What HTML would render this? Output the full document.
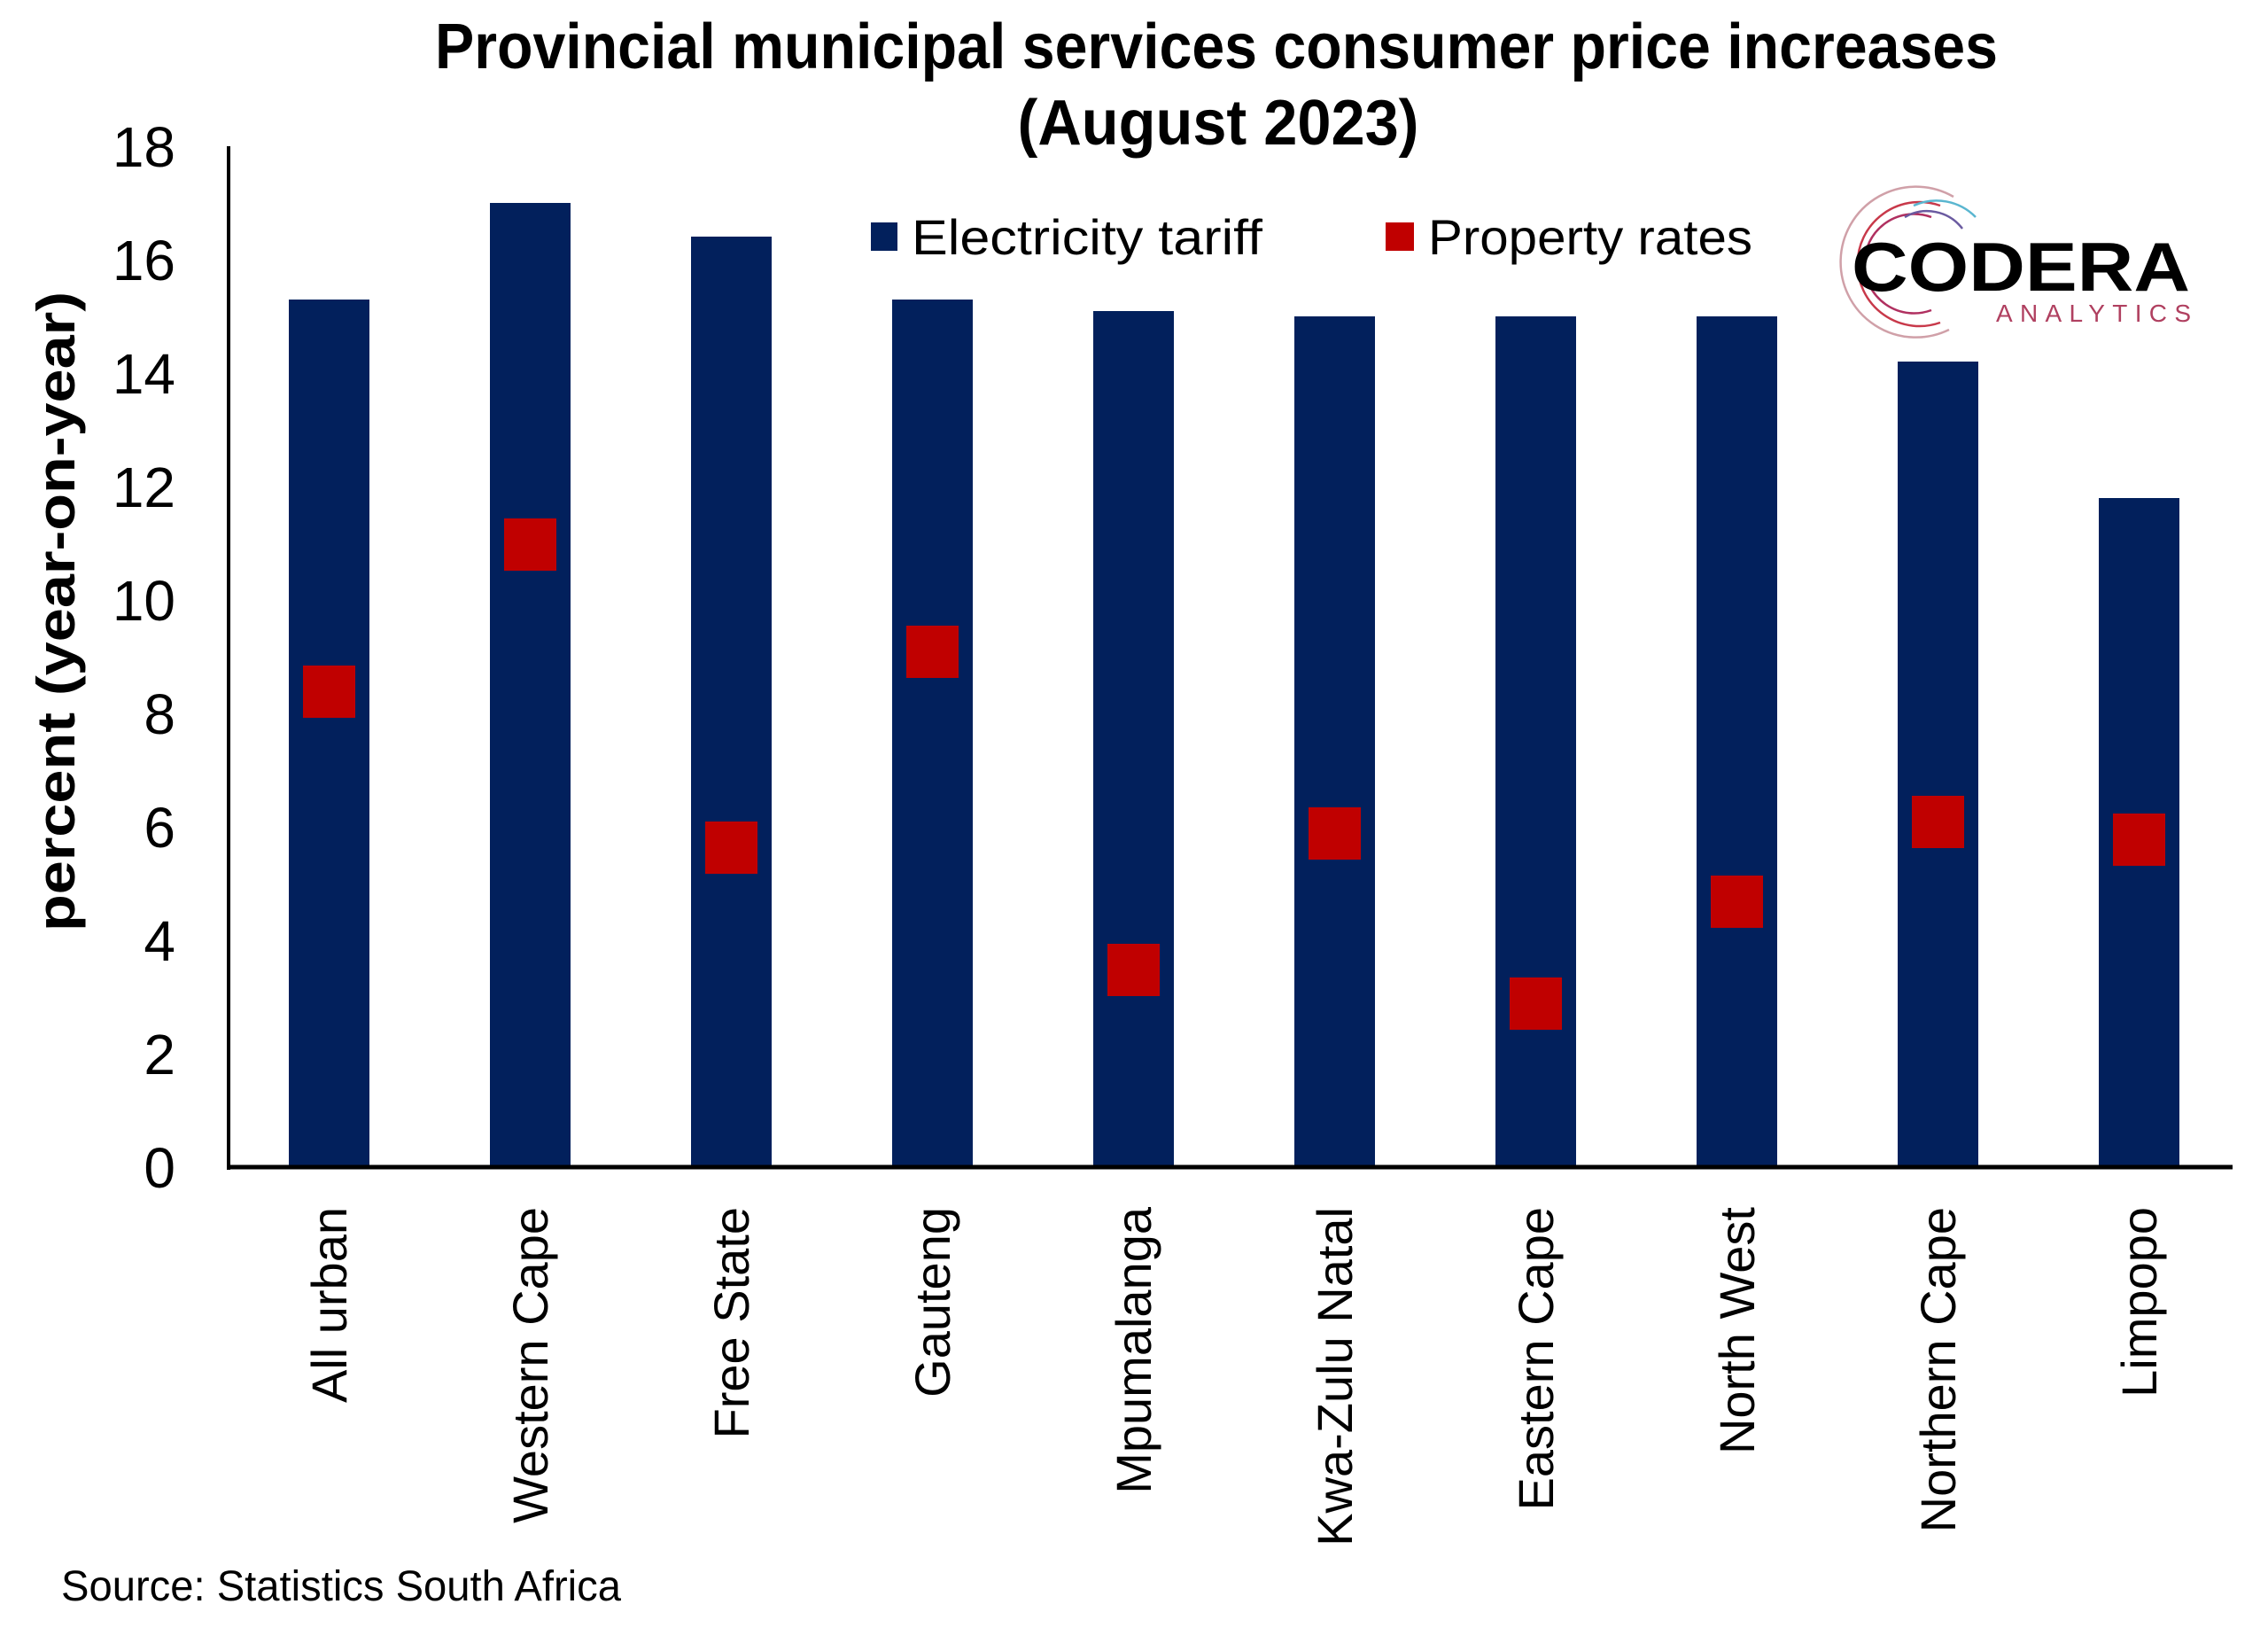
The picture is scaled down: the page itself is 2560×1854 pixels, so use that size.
<!DOCTYPE html>
<html><head><meta charset="utf-8"><style>html,body{margin:0;padding:0;background:#fff}svg{display:block}</style></head>
<body>
<svg width="2560" height="1854" viewBox="0 0 2560 1854" xmlns="http://www.w3.org/2000/svg" font-family="'Liberation Sans', sans-serif">
<rect width="2560" height="1854" fill="#fff"/>
<text x="1373" y="77" font-size="72" font-weight="bold" text-anchor="middle" textLength="1764" lengthAdjust="spacingAndGlyphs">Provincial municipal services consumer price increases</text>
<text x="1375" y="163" font-size="72" font-weight="bold" text-anchor="middle" textLength="453" lengthAdjust="spacingAndGlyphs">(August 2023)</text>
<g font-size="64" text-anchor="end" fill="#000">
<text x="198" y="1340">0</text>
<text x="198" y="1212">2</text>
<text x="198" y="1084">4</text>
<text x="198" y="956">6</text>
<text x="198" y="828">8</text>
<text x="198" y="700">10</text>
<text x="198" y="572">12</text>
<text x="198" y="444">14</text>
<text x="198" y="316">16</text>
<text x="198" y="188">18</text>
</g>
<text transform="translate(84,690) rotate(-90)" font-size="60" font-weight="bold" text-anchor="middle" textLength="722" lengthAdjust="spacingAndGlyphs">percent (year-on-year)</text>
<g fill="#02205c">
<rect x="326" y="338" width="91" height="979"/>
<rect x="553" y="229" width="91" height="1088"/>
<rect x="780" y="267" width="91" height="1050"/>
<rect x="1007" y="338" width="91" height="979"/>
<rect x="1234" y="351" width="91" height="966"/>
<rect x="1461" y="357" width="91" height="960"/>
<rect x="1688" y="357" width="91" height="960"/>
<rect x="1915" y="357" width="91" height="960"/>
<rect x="2142" y="408" width="91" height="909"/>
<rect x="2369" y="562" width="91" height="755"/>
</g>
<g fill="#c00000">
<rect x="342" y="751" width="59" height="59"/>
<rect x="569" y="585" width="59" height="59"/>
<rect x="796" y="927" width="59" height="59"/>
<rect x="1023" y="706" width="59" height="59"/>
<rect x="1250" y="1065" width="59" height="59"/>
<rect x="1477" y="911" width="59" height="59"/>
<rect x="1704" y="1103" width="59" height="59"/>
<rect x="1931" y="988" width="59" height="59"/>
<rect x="2158" y="898" width="59" height="59"/>
<rect x="2385" y="918" width="59" height="59"/>
</g>
<line x1="258" y1="165" x2="258" y2="1320" stroke="#000" stroke-width="4"/>
<line x1="256" y1="1317" x2="2520" y2="1317" stroke="#000" stroke-width="5"/>
<g font-size="56" text-anchor="end">
<text transform="translate(391,1362) rotate(-90)">All urban</text>
<text transform="translate(618,1362) rotate(-90)">Western Cape</text>
<text transform="translate(845,1362) rotate(-90)">Free State</text>
<text transform="translate(1072,1362) rotate(-90)">Gauteng</text>
<text transform="translate(1299,1362) rotate(-90)">Mpumalanga</text>
<text transform="translate(1526,1362) rotate(-90)">Kwa-Zulu Natal</text>
<text transform="translate(1753,1362) rotate(-90)">Eastern Cape</text>
<text transform="translate(1980,1362) rotate(-90)">North West</text>
<text transform="translate(2207,1362) rotate(-90)">Northern Cape</text>
<text transform="translate(2434,1362) rotate(-90)">Limpopo</text>
</g>
<rect x="983" y="251" width="30" height="32" fill="#02205c"/>
<text x="1029" y="287" font-size="56" textLength="396" lengthAdjust="spacingAndGlyphs">Electricity tariff</text>
<rect x="1564" y="251" width="32" height="32" fill="#c00000"/>
<text x="1612" y="287" font-size="56" textLength="366" lengthAdjust="spacingAndGlyphs">Property rates</text>
<g fill="none" stroke-width="2.5">
<path d="M2190,232 A70,70 0 1 0 2190,364" stroke="#c8394a"/>
<path d="M2180,245 A56,56 0 1 0 2180,350" stroke="#b03060"/>
<path d="M2205,222 A85,85 0 1 0 2200,372" stroke="#d0a0a8"/>
<path d="M2160,232 A62,62 0 0 1 2230,245" stroke="#5ab6d0"/>
<path d="M2150,245 A50,50 0 0 1 2215,258" stroke="#6a5aa0"/>
</g>
<text x="2090" y="328" font-size="78" font-weight="bold" textLength="382" lengthAdjust="spacingAndGlyphs">CODERA</text>
<text x="2253" y="363" font-size="28" fill="#b04060" textLength="220" lengthAdjust="spacing">ANALYTICS</text>
<text x="69" y="1806" font-size="48" textLength="632" lengthAdjust="spacingAndGlyphs">Source: Statistics South Africa</text>
</svg>
</body></html>
